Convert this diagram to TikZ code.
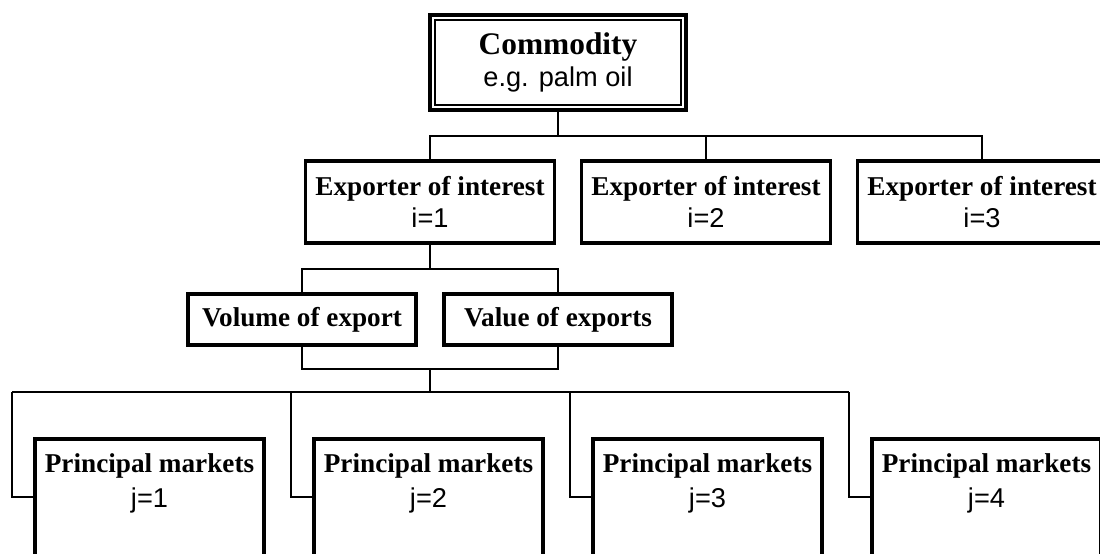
\documentclass[tikz,border=0pt]{standalone}
\usepackage{fontspec}
\setmainfont{Liberation Serif}
\setsansfont{Liberation Sans}

\begin{document}
\begin{tikzpicture}[x=0.5pt,y=-0.5pt,
box/.style={draw,rectangle,line width=1.8pt,inner sep=0pt,outer sep=0pt,align=center,font=\fontsize{13.6}{15.8}\selectfont},
expbox/.style={box,minimum width=124.5pt,minimum height=41pt},
flowbox/.style={box,minimum width=114pt,minimum height=25.5pt},
mktbox/.style={box,anchor=north,minimum width=114.5pt,inner ysep=7.3pt,text depth=70pt},
link/.style={draw,line width=0.9pt}]
\path[use as bounding box,clip] (0,0) rectangle (1100,553);

\node (comm) [box,line width=2pt,minimum width=128pt,minimum height=47.5pt] at (558,62.5)
    {{\fontsize{15.7}{16}\selectfont\textbf{Commodity}}\\ \textsf{e.g. palm oil}};
\draw[line width=1pt] ([shift={(2.5pt,2.5pt)}]comm.south west) rectangle ([shift={(-2.5pt,-2.5pt)}]comm.north east);

\foreach \i/\x in {1/430,2/706,3/982}
    \node (exp\i) [expbox] at (\x,202) {\textbf{Exporter of interest}\\ \textsf{i=\i}};

\node (vol) [flowbox] at (302,319.5) {\textbf{Volume of export}};
\node (val) [flowbox] at (558,319.5) {\textbf{Value of exports}};

\foreach \i/\x in {1/149.5,2/428.5,3/707.5,4/986.5}
    \node (mkt\i) [mktbox] at (\x,439) {\textbf{Principal markets}\\[1.7pt] \textsf{j=\i}};

\coordinate (combus) at (558,136);
\draw[link] (comm.south) -- (combus);
\draw[link] (exp1.north) |- (combus) -| (exp3.north);
\draw[link] (exp2.north) -- (exp2.north |- combus);

\coordinate (expbus) at (430,269);
\draw[link] (exp1.south) -- (expbus);
\draw[link] (vol.north) |- (expbus) -| (val.north);

\coordinate (flowbus) at (430,369);
\coordinate (mktbus) at (430,392);
\draw[link] (vol.south) |- (flowbus) -| (val.south);
\draw[link] (flowbus) -- (mktbus);

\foreach \i/\x in {1/12,2/291,3/570,4/849}
    \coordinate (elb\i) at (\x,497);
\draw[link] (elb1 |- mktbus) -- (elb4 |- mktbus);
\foreach \i in {1,...,4}
    \draw[link] (elb\i |- mktbus) -- (elb\i) -- (elb\i -| mkt\i.west);
\end{tikzpicture}
\end{document}
